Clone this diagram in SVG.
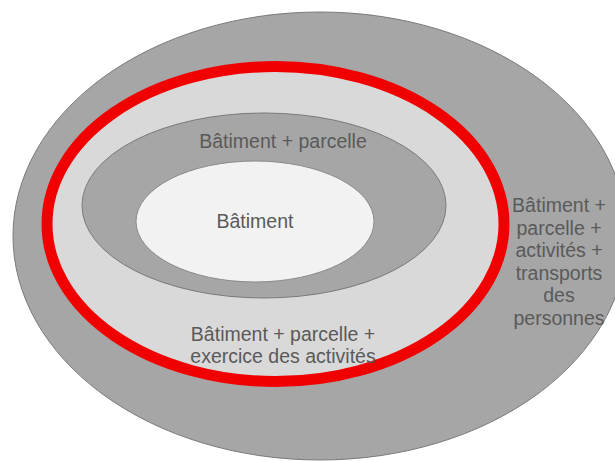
<svg xmlns="http://www.w3.org/2000/svg" width="615" height="461" viewBox="0 0 615 461">
<style>
.gray{fill:#a6a6a6;stroke:#7a7a7a;stroke-width:1}
.t{font-family:"Liberation Sans",Arial,sans-serif;font-size:19.5px;fill:#5a5a5a;text-anchor:middle}
</style>
<rect width="615" height="461" fill="#ffffff"/>
<g id="outer">
<ellipse class="gray" cx="320" cy="236" rx="307" ry="224"/>
<text class="t" x="559" y="212">Bâtiment +</text>
<text class="t" x="559" y="234.5">parcelle +</text>
<text class="t" x="559" y="257">activités +</text>
<text class="t" x="559" y="279.5">transports</text>
<text class="t" x="559" y="302">des</text>
<text class="t" x="559" y="324.5">personnes</text>
</g>
<g id="red">
<ellipse cx="275.5" cy="224" rx="228.5" ry="157.5" fill="#d9d9d9" stroke="#f00000" stroke-width="11"/>
<text class="t" x="283" y="341">Bâtiment + parcelle +</text>
<text class="t" x="283" y="363">exercice des activités</text>
</g>
<g id="middle">
<ellipse class="gray" cx="264" cy="205.5" rx="182" ry="92.5"/>
<text class="t" x="283" y="148">Bâtiment + parcelle</text>
</g>
<g id="inner">
<ellipse cx="255" cy="221.5" rx="119" ry="60.5" fill="#f2f2f2" stroke="#8a8a8a" stroke-width="1"/>
<text class="t" x="255" y="228">Bâtiment</text>
</g>
<g id="connectors"></g>
</svg>
